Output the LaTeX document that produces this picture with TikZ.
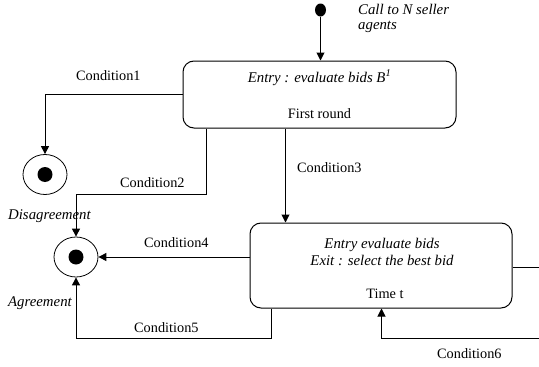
\documentclass[tikz,border=0pt]{standalone}
\usepackage{fontspec}
\setmainfont{Liberation Serif}
\usetikzlibrary{shapes.geometric, arrows.meta, positioning, calc}

\begin{document}
\begin{tikzpicture}[
    x=1pt, y=-1pt,
    statebox/.style={rectangle, draw, rounded corners=11pt, line width=1pt},
    finalstate/.style={ellipse, draw, minimum width=44pt, minimum height=40pt, line width=0.8pt, path picture={\fill[black] (path picture bounding box.center) circle (7.5pt);}},
    startdot/.style={ellipse, fill=black, minimum width=11pt, minimum height=13pt, inner sep=0pt},
    arrow/.style={line width=1pt, -{Triangle[length=8pt,width=8pt]}},
    line/.style={line width=1pt},
    cond/.style={font=\fontsize{14.3pt}{17pt}\selectfont, anchor=base west, inner sep=0pt},
    note/.style={cond, font=\fontsize{14.8pt}{17pt}\selectfont\itshape}
]
\useasboundingbox (0,0) rectangle (539,367);

% Stany
\node[statebox, minimum width=273pt, minimum height=67pt] (first) at (319.5,94.5) {};
\node[statebox, minimum width=262pt, minimum height=85pt] (second) at (381,265.5) {};

\node[startdot] (init) at (320.5,10) {};
\node[finalstate] (disagree) at (45,174.5) {};
\node[finalstate] (agree) at (76,257) {};

% Teksty w stanach
\node[note, anchor=base] (firstentry) at (319.5,82) {Entry : evaluate bids B\textsuperscript{1}};
\node[cond, anchor=base] (firstround) at (319.5,118) {First round};
\node[note, anchor=base] (secondentry) at (382,248) {Entry evaluate bids};
\node[note, anchor=base] (secondexit) at (382,265) {Exit : select the best bid};
\node[cond, anchor=base] (secondtime) at (385,298) {Time t};

% Opisy
\node[note] (calltext) at (358,14) {Call to N seller};
\node[note] (calltext2) at (358,29) {agents};
\node[note] (disagreelbl) at (8,219) {Disagreement};
\node[note] (agreelbl) at (8,306) {Agreement};

\node[cond] (condone) at (76,80) {Condition1};
\node[cond] (condtwo) at (120,187) {Condition2};
\node[cond] (condthree) at (297,172) {Condition3};
\node[cond] (condfour) at (144,247) {Condition4};
\node[cond] (condfive) at (134,332) {Condition5};
\node[cond] (condsix) at (437,358) {Condition6};

% Przejscia
\draw[arrow] (init) -- (init |- first.north);
\draw[arrow] (first.west) -| (disagree.north);
\draw[arrow] ([xshift=24pt]first.south west) -- ++(0,66) -| (agree.north);
\draw[arrow] ([xshift=103pt]first.south west) -- ([xshift=103pt]first.south west |- second.north);
\draw[arrow] (second.west |- agree.east) -- (agree.east);
\draw[arrow] ([xshift=22pt]second.south west) -- ++(0,30) -| (agree.south);

\coordinate (exitend) at (539,267);
\draw[line] (second.east |- exitend) -- (exitend);
\coordinate (loopin) at (539,338);
\draw[arrow] (loopin) -| ([xshift=132pt]second.south west);

\end{tikzpicture}
\end{document}
